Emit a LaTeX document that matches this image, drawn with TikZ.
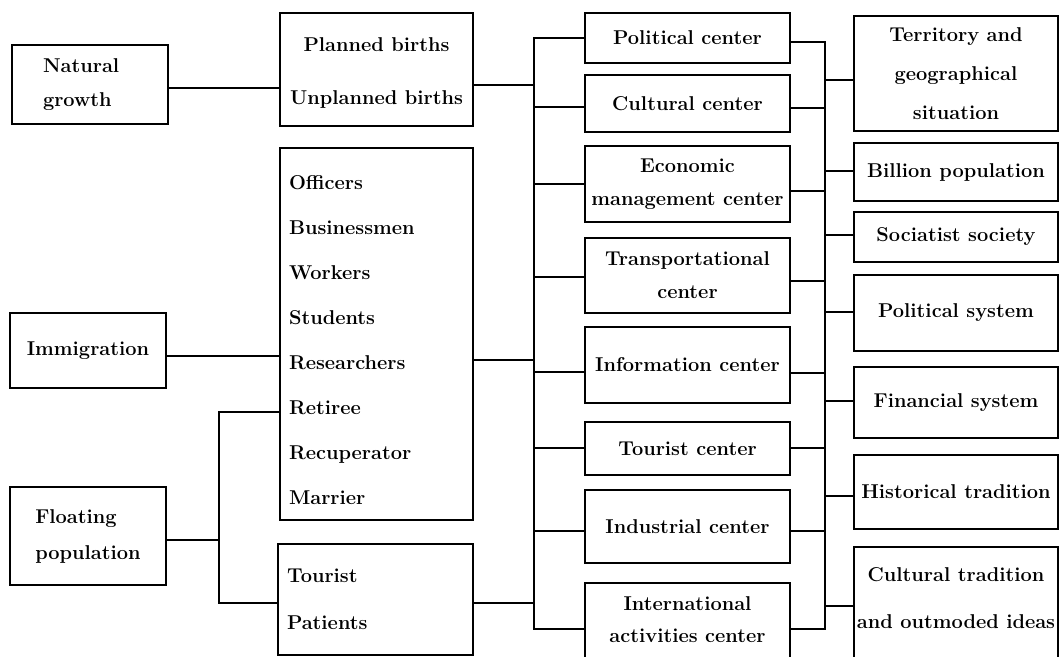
\documentclass[tikz,border=0pt]{standalone}
\usepackage{fontspec}
\begin{document}
\begin{tikzpicture}[x=1pt,y=-1pt,
  bx/.style={draw, line width=1.7pt, inner sep=0pt, align=center,
    font=\bfseries\fontsize{20}{#1}\selectfont},
  bx/.default=34,
  ln/.style={line width=1.7pt}]
\useasboundingbox[fill=white] (0,0) rectangle (1060,656);

% left column
\node[bx=34, minimum width=156, minimum height=79, align=left, text width=94, inner xsep=31] (ng) at (90,84.5) {Natural\\growth};
\node[bx, minimum width=156, minimum height=75] (im) at (88,350.5) {Immigration};
\node[bx=36, minimum width=156, minimum height=98, align=left] (fp) at (88,536) {Floating\\population};

% second column
\node[bx=53, minimum width=193, minimum height=113] (pb) at (376.5,69.5) {\rule{0pt}{20pt}Planned births\\Unplanned births};
\node[bx=45.1, minimum width=193, minimum height=372, align=left, text width=175, inner xsep=9] (off) at (376.5,334)
  {\rule{0pt}{26pt}Officers\\Businessmen\\Workers\\Students\\Researchers\\Retiree\\Recuperator\\Marrier};
\node[bx=47, minimum width=195, minimum height=111, align=left, text width=177, inner xsep=9] (tp) at (375.5,599.5) {Tourist\\Patients};

% centre column
\node[bx, minimum width=205, minimum height=50] (pol) at (687.5,38) {Political center};
\node[bx, minimum width=205, minimum height=57] (cul) at (687.5,103.5) {Cultural center};
\node[bx=33, minimum width=205, minimum height=76] (eco) at (687.5,184) {Economic\\management center};
\node[bx=33, minimum width=205, minimum height=75] (tra) at (687.5,275.5) {Transportational\\center};
\node[bx, minimum width=205, minimum height=76] (inf) at (687.5,365) {Information center};
\node[bx, minimum width=205, minimum height=53] (tou) at (687.5,448.5) {Tourist center};
\node[bx, minimum width=205, minimum height=73] (ind) at (687.5,526.5) {Industrial center};
\node[bx=32, minimum width=205, minimum height=79] (int) at (687.5,622.5) {International\\activities center\rule[-6pt]{0pt}{6pt}};

% right column
\node[bx=39, minimum width=204, minimum height=115] (ter) at (956,73.5) {Territory and\\geographical\\situation};
\node[bx, minimum width=204, minimum height=58] (bil) at (956,172) {Billion population};
\node[bx, minimum width=204, minimum height=50] (soc) at (956,237) {Sociatist society};
\node[bx, minimum width=204, minimum height=76] (psy) at (956,313) {Political system};
\node[bx, minimum width=204, minimum height=71] (fin) at (956,402.5) {Financial system};
\node[bx, minimum width=204, minimum height=74] (his) at (956,492) {Historical tradition};
\node[bx=47, minimum width=204, minimum height=113] (ctr) at (956,603.5) {Cultural tradition\\and outmoded ideas\rule[-10pt]{0pt}{10pt}};

% bus coordinates
\coordinate (fbt) at (219,412);
\coordinate (fbb) at (219,603);
\coordinate (blt) at (534,38);
\coordinate (blb) at (534,629);
\coordinate (brt) at (825,42);
\coordinate (brb) at (825,629);

% left connectors
\draw[ln] (ng.east |- 0,88) -- (pb.west |- 0,88);
\draw[ln] (im.east |- 0,356) -- (off.west |- 0,356);
\draw[ln] (fp.east |- 0,540) -- (fbt |- 0,540);
\draw[ln] (off.west |- fbt) -- (fbt) -- (fbb) -- (tp.west |- fbb);

% left bus
\draw[ln] (pol.west |- blt) -- (blt) -- (blb) -- (int.west |- blb);
\foreach \n/\y in {cul/107, eco/184, tra/277, inf/372, tou/448, ind/531}
  \draw[ln] (blt |- 0,\y) -- (\n.west |- 0,\y);
\foreach \n/\y in {pb/85, off/360, tp/603}
  \draw[ln] (\n.east |- 0,\y) -- (blt |- 0,\y);

% right bus
\draw[ln] (pol.east |- brt) -- (brt) -- (brb) -- (int.east |- brb);
\foreach \n/\y in {cul/108, eco/191, tra/281, inf/373, tou/448, ind/531}
  \draw[ln] (\n.east |- 0,\y) -- (brt |- 0,\y);
\foreach \n/\y in {ter/80, bil/171, soc/235, psy/312, fin/401, his/496, ctr/606}
  \draw[ln] (brt |- 0,\y) -- (\n.west |- 0,\y);
\end{tikzpicture}
\end{document}
